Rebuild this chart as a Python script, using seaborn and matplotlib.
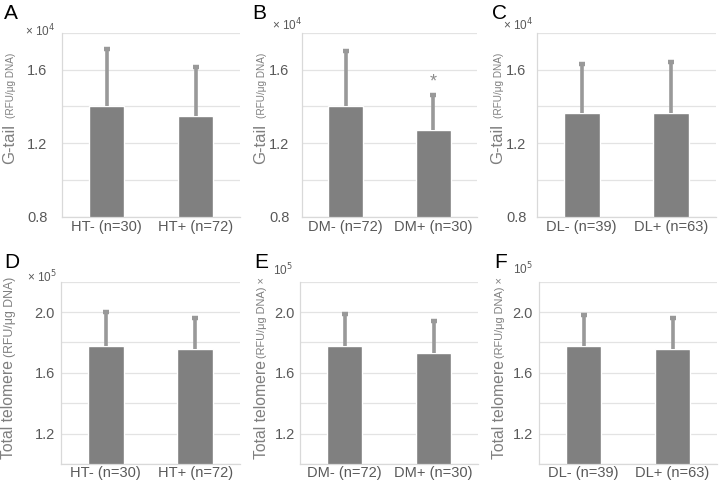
import numpy as np
import pandas as pd
import matplotlib
matplotlib.use("Agg")
import matplotlib.pyplot as plt
import seaborn as sns

sns.set_theme(style="white")
plt.rcParams['font.family'] = ['Liberation Sans', 'DejaVu Sans']

# ---- data (values in display units: x10^4 for G-tail, x10^5 for total telomere) ----
cats_A = ["HT- (n=30)", "HT+ (n=72)"]
mean_A = [1.40, 1.35]
sd_A = [0.315, 0.267]

cats_B = ["DM- (n=72)", "DM+ (n=30)"]
mean_B = [1.40, 1.273]
sd_B = [0.304, 0.191]

cats_C = ["DL- (n=39)", "DL+ (n=63)"]
mean_C = [1.364, 1.363]
sd_C = [0.269, 0.279]

cats_D = ["HT- (n=30)", "HT+ (n=72)"]
mean_D = [1.78, 1.76]
sd_D = [0.22, 0.20]

cats_E = ["DM- (n=72)", "DM+ (n=30)"]
mean_E = [1.78, 1.73]
sd_E = [0.207, 0.21]

cats_F = ["DL- (n=39)", "DL+ (n=63)"]
mean_F = [1.775, 1.76]
sd_F = [0.205, 0.20]

letters = ["A", "B", "C", "D", "E", "F"]
ylim_top = (0.8, 1.8)
yticks_top = [0.8, 1.2, 1.6]
ylim_bot = (1.0, 2.2)
yticks_bot = [1.2, 1.6, 2.0]

W, H = 720, 495
fig = plt.figure(figsize=(7.2, 4.95), dpi=100)

BAR = "#808080"
ERR = "#999999"
GRID = "#e3e3e3"
AXC = "#d9d9d9"
TXT = "#595959"

def px_ax(l, t, r, b):
    return fig.add_axes([l / W, (H - b) / H, (r - l) / W, (b - t) / H])

panels = [
    (cats_A, mean_A, sd_A, (62, 33, 240, 216.7), ylim_top, yticks_top, 2.5, 10.5),
    (cats_B, mean_B, sd_B, (302, 33, 477, 216.7), ylim_top, yticks_top, 2.5, 9),
    (cats_C, mean_C, sd_C, (537, 33, 716, 216.7), ylim_top, yticks_top, 2.5, 7.5),
    (cats_D, mean_D, sd_D, (61, 281.7, 240, 464), ylim_bot, yticks_bot, 1.5, 4.5),
    (cats_E, mean_E, sd_E, (300, 281.7, 478, 464), ylim_bot, yticks_bot, 1.5, 3.8),
    (cats_F, mean_F, sd_F, (539, 281.7, 717, 464), ylim_bot, yticks_bot, 1.5, 4.5),
]

axes = []
for cats, means, sds, box, ylim, yt, xpad, ypad in panels:
    ax = px_ax(*box)
    df = pd.DataFrame({"group": cats, "value": means})
    sns.barplot(data=df, x="group", y="value", color=BAR, saturation=1,
                width=0.4, errorbar=None, ax=ax, zorder=2)
    xs = np.arange(len(cats))
    tops = np.array(means) + np.array(sds)
    ax.errorbar(xs, means, yerr=[np.zeros(len(sds)), sds], fmt="none",
                ecolor=ERR, elinewidth=2.6, capsize=0, zorder=3)
    ax.plot(xs, tops, ls="none", marker="_", markersize=4.5, mew=3.2,
            color=ERR, zorder=3)
    ax.set_ylim(*ylim)
    ax.set_xlim(-0.5, 1.5)
    ax.set_yticks(np.arange(ylim[0], ylim[1] + 0.001, 0.2), minor=True)
    ax.set_yticks(yt)
    ax.set_yticklabels([f"{v:.1f}" for v in yt])
    ax.yaxis.grid(True, which="both", color=GRID, lw=0.9, zorder=0)
    ax.set_axisbelow(True)
    ax.set_xlabel("")
    ax.set_ylabel("")
    for s in ["top", "right"]:
        ax.spines[s].set_visible(False)
    for s in ["left", "bottom"]:
        ax.spines[s].set_color(AXC)
        ax.spines[s].set_linewidth(0.9)
    ax.set_xticks([-0.5, 0.5, 1.5], minor=True)
    ax.set_xticks(xs)
    ax.set_xticklabels(cats)
    ax.tick_params(axis="x", which="major", length=0, pad=xpad, labelsize=10.5, labelcolor=TXT)
    ax.tick_params(axis="x", which="minor", length=4, width=0.9, color=AXC, direction="out")
    ax.tick_params(axis="y", which="both", length=0, pad=ypad, labelsize=10.5, labelcolor=TXT)
    axes.append(ax)

# significance marker
axes[1].text(1, 1.535, "*", ha="center", va="center", fontsize=13, color="#8c8c8c")

def ftext(x, y, s, **kw):
    return fig.text(x / W, (H - y) / H, s, **kw)

LBL = "#7f7f7f"
# panel letters
for (x, y), L in zip([(4, 4), (252, 4), (492, 4), (4, 253), (254, 253), (494, 253)], letters):
    ftext(x, y, L, fontsize=15, color="black", va="top", ha="left")

# y labels: top row
for xc in [10, 261, 498]:
    ftext(xc, 164, "G-tail", rotation=90, fontsize=12, color=LBL, ha="center", va="bottom")
    ftext(xc + 1, 118, "(RFU/μg DNA)", rotation=90, fontsize=7.2, color=LBL, ha="center", va="bottom")
# y labels: bottom row
ftext(9, 459, "Total telomere", rotation=90, fontsize=11.3, color=LBL, ha="center", va="bottom")
ftext(10, 357, "(RFU/μg DNA)", rotation=90, fontsize=8.8, color=LBL, ha="center", va="bottom")
for xc in [261, 499]:
    ftext(xc, 459, "Total telomere", rotation=90, fontsize=11.3, color=LBL, ha="center", va="bottom")
    ftext(xc + 1, 358, "(RFU/μg DNA) ×", rotation=90, fontsize=7.9, color=LBL, ha="center", va="bottom")

# scale multipliers
ftext(25, 31, "× 10$^{4}$", fontsize=8.5, color=TXT, ha="left", va="center")
ftext(272, 25, "× 10$^{4}$", fontsize=8.5, color=TXT, ha="left", va="center")
ftext(503, 25, "× 10$^{4}$", fontsize=8.5, color=TXT, ha="left", va="center")
ftext(27, 277, "× 10$^{5}$", fontsize=8.5, color=TXT, ha="left", va="center")
ftext(273, 270, "10$^{5}$", fontsize=8.5, color=TXT, ha="left", va="center")
ftext(513, 269, "10$^{5}$", fontsize=8.5, color=TXT, ha="left", va="center")

fig.savefig("out.png", dpi=100)
